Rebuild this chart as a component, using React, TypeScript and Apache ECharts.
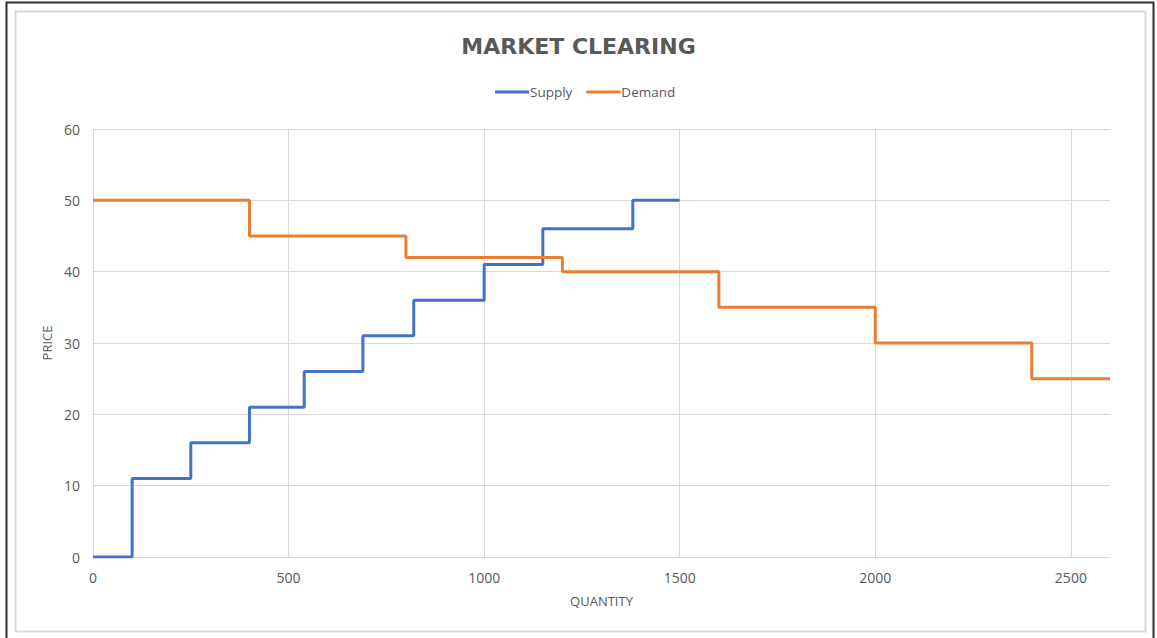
import React, { useEffect, useRef } from "react";
import * as echarts from "echarts";

const supplyQty = [0, 100, 250, 400, 540, 690, 820, 1000, 1150, 1380, 1500];
const supplyPrice = [0, 11, 16, 21, 26, 31, 36, 41, 46, 50, 50];
const demandQty = [0, 400, 800, 1200, 1600, 2000, 2400, 2600];
const demandPrice = [50, 45, 42, 40, 35, 30, 25, 25];

const FONT = "'Open Sans', 'Noto Sans', sans-serif";
const GRAY = "#595959";

export default function App() {
  const ref = useRef<HTMLDivElement>(null);
  useEffect(() => {
    document.body.style.margin = "0";
    const chart = echarts.init(ref.current!, null, { renderer: "svg" });
    chart.setOption({
      animation: false,
      backgroundColor: "#ffffff",
      title: {
        text: "MARKET CLEARING",
        left: "center",
        top: 30,
        textStyle: { fontFamily: "'DejaVu Sans', sans-serif", fontSize: 22, fontWeight: "bold", color: GRAY },
      },
      legend: {
        top: 80,
        left: 490,
        itemWidth: 34,
        itemHeight: 3,
        itemGap: 14,
        icon: "rect",
        textStyle: { fontFamily: FONT, fontSize: 13.5, color: GRAY, padding: [0, 0, 0, -4] },
        data: ["Supply", "Demand"],
      },
      grid: { left: 93, right: 47, top: 129, bottom: 81, containLabel: false },
      xAxis: {
        type: "value",
        min: 0,
        max: 2600,
        interval: 500,
        name: "QUANTITY",
        nameLocation: "middle",
        nameGap: 37,
        nameTextStyle: { fontFamily: FONT, fontSize: 13, color: GRAY },
        axisLine: { show: true, lineStyle: { color: "#d9d9d9", width: 1 } },
        axisTick: { show: false },
        axisLabel: {
          fontFamily: FONT,
          fontSize: 14,
          color: GRAY,
          margin: 13,
          showMaxLabel: false,
          formatter: (v: number) => (v % 500 === 0 ? String(v) : ""),
        },
        splitLine: { show: true, showMaxLine: false, lineStyle: { color: "#d9d9d9", width: 1 } },
      },
      yAxis: {
        type: "value",
        min: 0,
        max: 60,
        interval: 10,
        name: "PRICE",
        nameLocation: "middle",
        nameGap: 38,
        nameTextStyle: { fontFamily: FONT, fontSize: 13, color: GRAY },
        axisLine: { show: false },
        axisTick: { show: false },
        axisLabel: { fontFamily: FONT, fontSize: 14, color: GRAY, margin: 13 },
        splitLine: { show: true, lineStyle: { color: "#d9d9d9", width: 1 } },
      },
      series: [
        {
          name: "Supply",
          type: "line",
          step: "end",
          symbol: "none",
          color: "#4472C4",
          lineStyle: { width: 3, color: "#4472C4" },
          data: supplyQty.map((q, i) => [q, supplyPrice[i]]),
        },
        {
          name: "Demand",
          type: "line",
          step: "end",
          symbol: "none",
          color: "#ED7D31",
          lineStyle: { width: 3, color: "#ED7D31" },
          data: demandQty.map((q, i) => [q, demandPrice[i]]),
        },
      ],
      graphic: [
        {
          type: "rect",
          shape: { x: 6.5, y: 2.5, width: 1147, height: 700 },
          style: { fill: "none", stroke: "#303030", lineWidth: 2 },
          silent: true,
        },
        {
          type: "rect",
          shape: { x: 15.5, y: 11.5, width: 1130, height: 620 },
          style: { fill: "none", stroke: "#d9d9d9", lineWidth: 2 },
          silent: true,
        },
      ],
    });
    return () => chart.dispose();
  }, []);
  return <div ref={ref} style={{ width: 1157, height: 638 }} />;
}
